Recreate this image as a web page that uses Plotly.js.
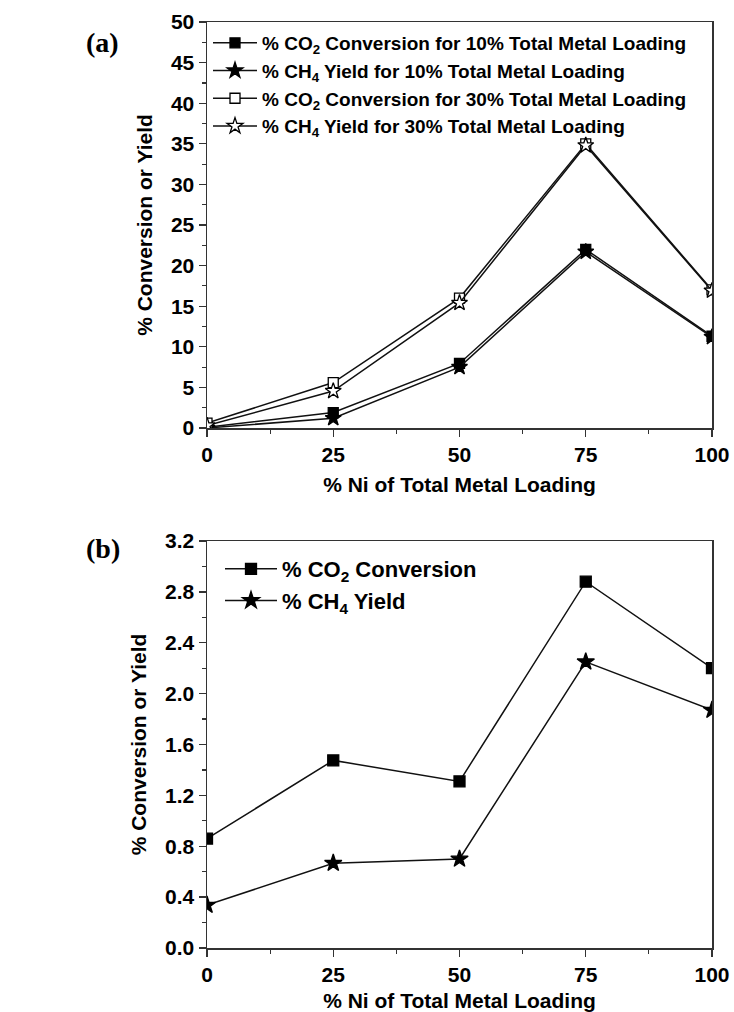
<!DOCTYPE html>
<html>
<head>
<meta charset="utf-8">
<script src="https://cdn.plot.ly/plotly-3.0.1.min.js"></script>
<style>html,body{margin:0;padding:0;background:#fff;}#chart{width:734px;height:1012px;}</style>
</head>
<body>
<div id="chart"></div>
<script>
// Data
const niPercent = [0, 25, 50, 75, 100];
// Panel (a)
const co2Conv10 = [0.1, 1.9, 7.95, 22.0, 11.3];
const ch4Yield10 = [0.0, 1.2, 7.5, 21.7, 11.2];
const co2Conv30 = [0.6, 5.6, 16.0, 35.0, 17.0];
const ch4Yield30 = [0.3, 4.55, 15.4, 34.8, 16.9];
// Panel (b)
const co2ConvB = [0.86, 1.475, 1.31, 2.88, 2.20];
const ch4YieldB = [0.337, 0.667, 0.70, 2.25, 1.87];

const namesA = [
  '% CO<sub>2</sub> Conversion for 10% Total Metal Loading',
  '% CH<sub>4</sub> Yield for 10% Total Metal Loading',
  '% CO<sub>2</sub> Conversion for 30% Total Metal Loading',
  '% CH<sub>4</sub> Yield for 30% Total Metal Loading'
];
const namesB = ['% CO<sub>2</sub> Conversion', '% CH<sub>4</sub> Yield'];

const FONT = 'Liberation Sans, Arial, sans-serif';
const lineStyle = {color: '#111', width: 1.5};

function tr(y, name, symbol, filled, xa, ya, legend, size) {
  return {
    x: niPercent, y: y, name: name, type: 'scatter', mode: 'lines+markers',
    xaxis: xa, yaxis: ya, legend: legend,
    line: lineStyle,
    marker: {symbol: symbol, size: size, color: filled ? '#000' : '#fff',
             line: {color: '#000', width: 1.3}},
    cliponaxis: true
  };
}

const data = [
  tr(co2Conv10, namesA[0], 'square', true, 'x', 'y', 'legend', 10),
  tr(ch4Yield10, namesA[1], 'star', true, 'x', 'y', 'legend', 12),
  tr(co2Conv30, namesA[2], 'square', false, 'x', 'y', 'legend', 10),
  tr(ch4Yield30, namesA[3], 'star', false, 'x', 'y', 'legend', 12),
  tr(co2ConvB, namesB[0], 'square', true, 'x2', 'y2', 'legend2', 11),
  tr(ch4YieldB, namesB[1], 'star', true, 'x2', 'y2', 'legend2', 13)
];

const W = 734, H = 1012;
const xDom = [207 / W, 712 / W];
const yDomA = [1 - 428 / H, 1 - 22 / H];
const yDomB = [1 - 948 / H, 1 - 541 / H];

const tickFont = {family: FONT, size: 21, color: '#000', weight: 'bold'};
const titleFont = {family: FONT, size: 21, color: '#000', weight: 'bold'};

function xAxis(domain, anchor, standoff) {
  return {
    domain: domain, anchor: anchor, range: [0, 100], dtick: 25, tick0: 0,
    showgrid: false, zeroline: false, showline: true, mirror: true,
    linecolor: '#333', linewidth: 1.5,
    ticks: 'outside', ticklen: 7, tickwidth: 1.3, tickcolor: '#333',
    minor: {ticks: 'outside', ticklen: 4, dtick: 12.5, tickcolor: '#333', tickwidth: 1.2, showgrid: false},
    tickfont: tickFont,
    title: {text: '% Ni of Total Metal Loading', font: titleFont, standoff: standoff}
  };
}
function yAxis(domain, anchor, range, dtick, minorDtick, fmt) {
  return {
    domain: domain, anchor: anchor, range: range, dtick: dtick, tick0: 0,
    showgrid: false, zeroline: false, showline: true, mirror: true,
    linecolor: '#333', linewidth: 1.5,
    ticks: 'outside', ticklen: 7, tickwidth: 1.3, tickcolor: '#333',
    minor: {ticks: 'outside', ticklen: 4, dtick: minorDtick, tickcolor: '#333', tickwidth: 1.2, showgrid: false},
    tickfont: tickFont, tickformat: fmt,
    title: {text: '% Conversion or Yield', font: titleFont, standoff: 12}
  };
}

const legendFont = {family: FONT, size: 19, color: '#000', weight: 'bold'};

const layout = {
  width: W, height: H,
  margin: {l: 0, r: 0, t: 0, b: 0},
  paper_bgcolor: '#fff', plot_bgcolor: '#fff',
  showlegend: true,
  xaxis: xAxis(xDom, 'y', 12),
  yaxis: yAxis(yDomA, 'x', [0, 50], 5, 2.5, ''),
  xaxis2: xAxis(xDom, 'y2', 8),
  yaxis2: yAxis(yDomB, 'x2', [0, 3.2], 0.4, 0.2, '.1f'),
  legend: {x: 208 / W, y: 1 - 24 / H, xanchor: 'left', yanchor: 'top',
           bgcolor: 'rgba(0,0,0,0)', font: legendFont, tracegroupgap: 0, itemwidth: 44},
  legend2: {x: 220 / W, y: 1 - 548 / H, xanchor: 'left', yanchor: 'top',
            bgcolor: 'rgba(0,0,0,0)', itemwidth: 52,
            font: {family: FONT, size: 22, color: '#000', weight: 'bold'}},
  annotations: [
    {text: '(a)', x: 84 / W, y: 1 - 43 / H, xref: 'paper', yref: 'paper', xanchor: 'left', yanchor: 'middle',
     showarrow: false, font: {family: 'Liberation Serif, Times New Roman, serif', size: 28, color: '#000', weight: 'bold'}},
    {text: '(b)', x: 84 / W, y: 1 - 548 / H, xref: 'paper', yref: 'paper', xanchor: 'left', yanchor: 'middle',
     showarrow: false, font: {family: 'Liberation Serif, Times New Roman, serif', size: 28, color: '#000', weight: 'bold'}}
  ]
};

Plotly.newPlot('chart', data, layout, {displayModeBar: false, staticPlot: true});
</script>
</body>
</html>
